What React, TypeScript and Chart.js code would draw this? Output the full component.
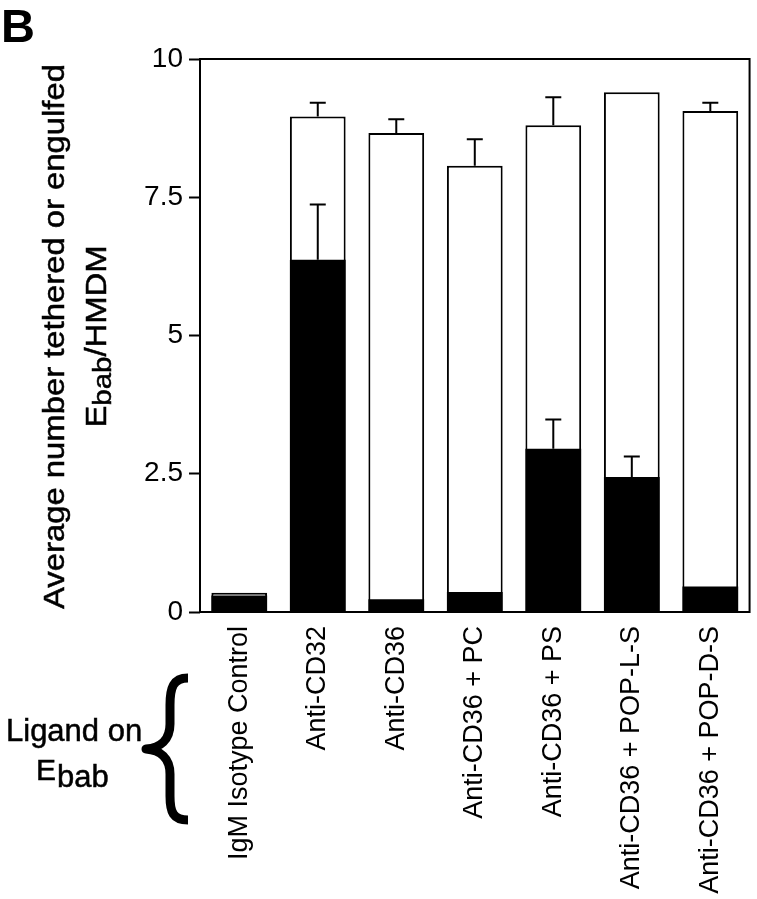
import React, { useEffect, useRef } from "react";
import { Chart, registerables } from "chart.js";

Chart.register(...registerables);

const categories = [
  "IgM Isotype Control",
  "Anti-CD32",
  "Anti-CD36",
  "Anti-CD36 + PC",
  "Anti-CD36 + PS",
  "Anti-CD36 + POP-L-S",
  "Anti-CD36 + POP-D-S",
];
const totalValues = [0.35, 8.96, 8.66, 8.07, 8.8, 9.4, 9.06];
const totalErrors = [0, 0.25, 0.25, 0.48, 0.51, 0, 0.15];
const engulfedValues = [0.3, 6.37, 0.23, 0.36, 2.95, 2.44, 0.46];
const engulfedErrors = [0, 1.0, 0, 0, 0.53, 0.37, 0];
const yTickValues = [0, 2.5, 5, 7.5, 10];
const yTickLabels = ["0", "2.5", "5", "7.5", "10"];
const titleLine1 = "Average number tethered or engulfed";
const titleLine2Main = "E";
const titleLine2Sub = "bab";
const titleLine2Rest = "/HMDM";
const panelLetter = "B";
const ligandLine1 = "Ligand on";
const ligandMain = "E";
const ligandSub = "bab";

const FONT = "'Liberation Sans', Arial, Helvetica, sans-serif";

function heavyText(ctx: any, s: string, x: number, y: number) {
  ctx.fillText(s, x, y);
  ctx.strokeText(s, x, y);
}

const errorBarPlugin = {
  id: "errorBars",
  afterDatasetsDraw(chart: any) {
    const ctx = chart.ctx;
    const x = chart.scales.x;
    const y = chart.scales.y;
    ctx.save();
    ctx.strokeStyle = "#000";
    ctx.lineWidth = 2;
    const drawSet = (vals: number[], errs: number[]) => {
      vals.forEach((v, i) => {
        const e = errs[i];
        if (!e) return;
        const cx = x.getPixelForValue(i);
        const y0 = y.getPixelForValue(v);
        const y1 = y.getPixelForValue(v + e);
        ctx.beginPath();
        ctx.moveTo(cx, y0);
        ctx.lineTo(cx, y1);
        ctx.moveTo(cx - 8, y1);
        ctx.lineTo(cx + 8, y1);
        ctx.stroke();
      });
    };
    drawSet(totalValues, totalErrors);
    drawSet(engulfedValues, engulfedErrors);
    const a = chart.chartArea;
    ctx.lineWidth = 2;
    ctx.strokeRect(a.left, a.top, a.right - a.left, a.bottom - a.top);
    ctx.restore();
  },
  afterDraw(chart: any) {
    const ctx = chart.ctx;
    ctx.save();
    ctx.fillStyle = "#000";
    ctx.strokeStyle = "#000";
    ctx.lineWidth = 0.5;
    ctx.font = `bold 47px ${FONT}`;
    ctx.textAlign = "left";
    ctx.textBaseline = "alphabetic";
    ctx.fillText(panelLetter, 1, 42);

    const a = chart.chartArea;
    const cy = (a.top + a.bottom) / 2 + 1;
    ctx.font = `29px ${FONT}`;
    const w1 = ctx.measureText(titleLine1).width;
    const stretch = 545 / w1;
    ctx.save();
    ctx.translate(64, cy);
    ctx.rotate(-Math.PI / 2);
    ctx.scale(stretch, 1);
    ctx.textAlign = "center";
    heavyText(ctx, titleLine1, 0, 0);
    ctx.restore();

    ctx.save();
    ctx.translate(106, cy);
    ctx.rotate(-Math.PI / 2);
    ctx.scale(stretch, 1);
    ctx.textAlign = "left";
    ctx.font = `29px ${FONT}`;
    const wE = ctx.measureText(titleLine2Main).width;
    const wR = ctx.measureText(titleLine2Rest).width;
    ctx.font = `26px ${FONT}`;
    const wS = ctx.measureText(titleLine2Sub).width;
    const total = wE + wS + wR;
    let px = -total / 2;
    ctx.font = `29px ${FONT}`;
    heavyText(ctx, titleLine2Main, px, 0);
    px += wE;
    ctx.font = `26px ${FONT}`;
    heavyText(ctx, titleLine2Sub, px, 5);
    px += wS;
    ctx.font = `29px ${FONT}`;
    heavyText(ctx, titleLine2Rest, px, 0);
    ctx.restore();

    ctx.font = `31px ${FONT}`;
    ctx.textAlign = "left";
    heavyText(ctx, ligandLine1, 6, 741);
    ctx.font = `30px ${FONT}`;
    heavyText(ctx, ligandMain, 36, 780);
    const we = ctx.measureText(ligandMain).width;
    ctx.font = `31px ${FONT}`;
    heavyText(ctx, ligandSub, 36 + we + 1, 787);

    ctx.lineWidth = 9;
    ctx.lineJoin = "round";
    ctx.lineCap = "butt";
    ctx.beginPath();
    ctx.moveTo(188, 678);
    ctx.bezierCurveTo(173, 678, 170, 688, 170, 705);
    ctx.lineTo(170, 724);
    ctx.bezierCurveTo(170, 740, 160, 748, 146, 749);
    ctx.bezierCurveTo(160, 750, 170, 758, 170, 774);
    ctx.lineTo(170, 796);
    ctx.bezierCurveTo(170, 812, 173, 820, 188, 820);
    ctx.stroke();
    ctx.restore();
  },
};

export default function App() {
  const ref = useRef<HTMLCanvasElement>(null);
  useEffect(() => {
    document.body.style.margin = "0";
    const chart = new Chart(ref.current as HTMLCanvasElement, {
      type: "bar",
      data: {
        labels: categories,
        datasets: [
          {
            label: "Engulfed",
            data: engulfedValues,
            backgroundColor: "#000",
            borderWidth: 0,
            order: 0,
          },
          {
            label: "Tethered or engulfed",
            data: totalValues,
            backgroundColor: "#fff",
            borderColor: "#000",
            borderWidth: 2,
            order: 1,
          },
        ],
      },
      options: {
        responsive: false,
        animation: false,
        devicePixelRatio: 1,
        layout: { padding: { left: 0, top: 59, right: 4, bottom: 0 } },
        plugins: { legend: { display: false }, tooltip: { enabled: false } },
        datasets: {
          bar: { grouped: false, barPercentage: 0.71, categoryPercentage: 1 },
        },
        scales: {
          x: {
            grid: { display: false, drawTicks: false },
            border: { display: false },
            ticks: {
              color: "#000",
              font: { size: 27, family: FONT },
              minRotation: 90,
              maxRotation: 90,
              padding: 14,
              autoSkip: false,
            },
            afterFit(scale: any) {
              scale.height = 287;
            },
          },
          y: {
            min: 0,
            max: 10,
            grid: {
              display: true,
              drawOnChartArea: false,
              drawTicks: true,
              tickLength: 11,
              tickWidth: 2,
              color: "#000",
            },
            border: { display: false },
            afterBuildTicks(scale: any) {
              scale.ticks = yTickValues.map((v) => ({ value: v }));
            },
            ticks: {
              color: "#000",
              font: { size: 28, family: FONT },
              padding: 6,
              callback: (v: any) => {
                const i = yTickValues.indexOf(Number(v));
                return i >= 0 ? yTickLabels[i] : "";
              },
            },
            afterFit(scale: any) {
              scale.width = 200;
            },
          },
        },
      } as any,
      plugins: [errorBarPlugin],
    });
    return () => chart.destroy();
  }, []);
  return (
    <div style={{ position: "absolute", left: 0, top: 0, width: 757, height: 899, background: "#fff" }}>
      <canvas ref={ref} width={757} height={899} style={{ width: 757, height: 899 }} />
    </div>
  );
}
